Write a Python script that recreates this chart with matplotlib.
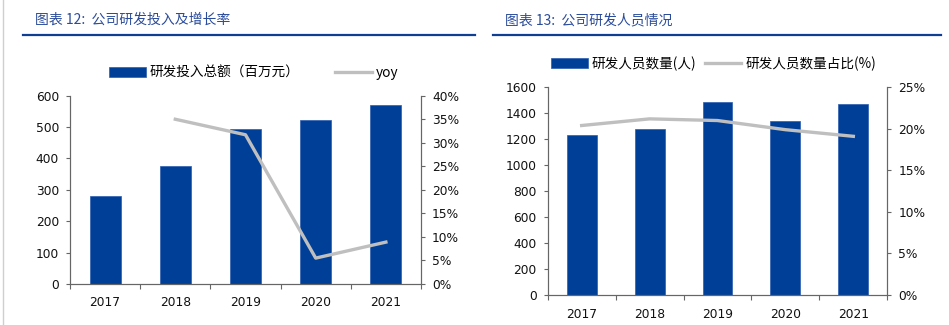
import numpy as np
import matplotlib
matplotlib.use("Agg")
import matplotlib.pyplot as plt
from matplotlib.lines import Line2D
from matplotlib.ticker import FuncFormatter, MultipleLocator, FixedLocator

plt.rcParams["font.family"] = ["DejaVu Sans"]
CJK = ["Noto Sans CJK SC", "DejaVu Sans"]

# ---- data ----
years = ["2017", "2018", "2019", "2020", "2021"]
rd_spend = [279, 375, 494, 522, 570]              # 研发投入总额（百万元）
rd_yoy = [np.nan, 35.0, 31.7, 5.5, 8.9]           # yoy, %
rd_staff = [1230, 1276, 1487, 1343, 1469]         # 研发人员数量(人)
rd_staff_pct = [20.4, 21.2, 21.0, 19.9, 19.1]     # 研发人员数量占比(%)

BAR = "#003F97"
LINE = "#BFBFBF"
SPINE = "#666666"
TITLE_C = "#2B4C9B"
RULE_C = "#0E3F92"
TICK_FS = 8.8

W, H = 949, 325
fig = plt.figure(figsize=(W / 100, H / 100), dpi=100)


def px_axes(x0, x1, ytop, ybot):
    return fig.add_axes([x0 / W, 1 - ybot / H, (x1 - x0) / W, (ybot - ytop) / H])


def style(ax, ax2, ymax, ystep, pmax, pstep):
    x = np.arange(len(years))
    ax.set_xlim(-0.5, len(years) - 0.5)
    ax.set_ylim(0, ymax)
    ax.yaxis.set_major_locator(MultipleLocator(ystep))
    ax2.set_ylim(0, pmax)
    ax2.yaxis.set_major_locator(MultipleLocator(pstep))
    ax2.yaxis.set_major_formatter(FuncFormatter(lambda v, _: f"{v:.0f}%"))
    ax.set_xticks(x)
    ax.set_xticklabels(years)
    # small ticks at the category boundaries
    ax.xaxis.set_minor_locator(FixedLocator(np.arange(-0.5, len(years), 1.0)))
    ax.tick_params(axis="x", which="major", length=0, pad=9, labelsize=TICK_FS, labelcolor="#111111")
    ax.tick_params(axis="x", which="minor", length=3.5, color=SPINE, width=0.8, direction="out")
    for a in (ax, ax2):
        a.tick_params(axis="y", length=3, color=SPINE, width=0.8, labelsize=TICK_FS,
                      labelcolor="#111111", pad=5)
        a.spines["top"].set_visible(False)
        for s in ("left", "right", "bottom"):
            a.spines[s].set_color(SPINE)
            a.spines[s].set_linewidth(0.8)


x = np.arange(len(years))

# ---- left panel: R&D spend + yoy ----
axL = px_axes(70, 421, 95.7, 284)
bL = axL.bar(x, rd_spend, width=0.44, color=BAR, edgecolor="#2a5cb0", linewidth=0.5)
axL2 = axL.twinx()
axL2.plot(x, rd_yoy, color=LINE, lw=2.4)
style(axL, axL2, 600, 100, 40, 5)

fig.legend([bL, Line2D([], [], color=LINE, lw=2.4)],
           ["研发投入总额（百万元）", "yoy"],
           loc="center left", bbox_to_anchor=(109 / W, 1 - 73 / H), ncol=2,
           frameon=False, prop={"family": CJK, "size": 9.8},
           handlelength=2.7, handleheight=0.75, handletextpad=0.3, columnspacing=2.6,
           borderaxespad=0, borderpad=0)

# ---- right panel: R&D staff + share ----
axR = px_axes(547.7, 887.3, 87.3, 295)
bR = axR.bar(x, rd_staff, width=0.44, color=BAR, edgecolor="#2a5cb0", linewidth=0.5)
axR2 = axR.twinx()
axR2.plot(x, rd_staff_pct, color=LINE, lw=2.4)
style(axR, axR2, 1600, 200, 25, 5)

fig.legend([bR, Line2D([], [], color=LINE, lw=2.4)],
           ["研发人员数量(人)", "研发人员数量占比(%)"],
           loc="center left", bbox_to_anchor=(551 / W, 1 - 63.5 / H), ncol=2,
           frameon=False, prop={"family": CJK, "size": 9.8},
           handlelength=2.7, handleheight=0.75, handletextpad=0.3, columnspacing=0.6,
           borderaxespad=0, borderpad=0)

# ---- titles and rules ----
fig.text(35 / W, 1 - 20 / H, "图表 12:  公司研发投入及增长率", family=CJK, size=10,
         color=TITLE_C, va="center", ha="left", style="italic")
fig.text(505 / W, 1 - 20 / H, "图表 13:  公司研发人员情况", family=CJK, size=10,
         color=TITLE_C, va="center", ha="left", style="italic")
fig.add_artist(Line2D([23 / W, 475 / W], [1 - 35 / H] * 2, color=RULE_C, lw=1.6))
fig.add_artist(Line2D([493 / W, 941 / W], [1 - 35 / H] * 2, color=RULE_C, lw=1.6))
fig.add_artist(Line2D([2.5 / W, 2.5 / W], [0, 1], color="#CFCFCF", lw=1.0))

fig.savefig("out.png", dpi=100)
